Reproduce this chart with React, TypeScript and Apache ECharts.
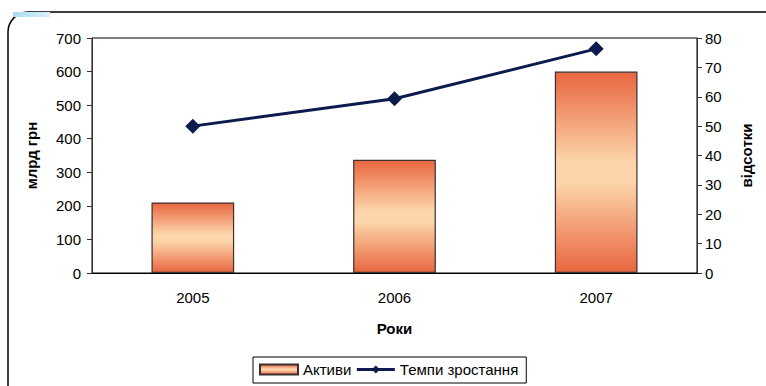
import React, { useEffect, useRef } from "react";
import * as echarts from "echarts";

const years = ["2005", "2006", "2007"];
const assets = [210, 337, 600];
const growth = [50, 59.3, 76.3];

export default function App() {
  const ref = useRef<HTMLDivElement>(null);
  useEffect(() => {
    const chart = echarts.init(ref.current!, null, { renderer: "svg" });
    const font = "Liberation Sans, Arial, sans-serif";
    const barGrad = new echarts.graphic.LinearGradient(0, 0, 0, 1, [
      { offset: 0, color: "#e8663f" },
      { offset: 0.45, color: "#fdd5ab" },
      { offset: 0.55, color: "#fdd5ab" },
      { offset: 1, color: "#e8663f" },
    ]);
    chart.setOption({
      animation: false,
      textStyle: { fontFamily: font },
      graphic: [
        {
          type: "rect",
          shape: { x: 8, y: 12, width: 800, height: 420, r: 20 },
          style: { fill: "none", stroke: "#000", lineWidth: 1.5 },
          z: 0,
        },
        {
          type: "rect",
          shape: { x: 13, y: 12, width: 37, height: 5 },
          style: {
            fill: new echarts.graphic.LinearGradient(0, 0, 1, 0, [
              { offset: 0, color: "#a9dcef" },
              { offset: 1, color: "#d9f1fa" },
            ]),
          },
          z: 1,
        },
      ],
      grid: { left: 92, right: 69, top: 38, bottom: 113, show: true, borderColor: "#000", borderWidth: 1 },
      legend: {
        left: 253,
        top: 357,
        itemWidth: 38,
        itemHeight: 10,
        itemGap: 4,
        padding: [5, 8, 6, 6],
        borderColor: "#000",
        borderWidth: 1,
        textStyle: { fontSize: 15, color: "#000", fontFamily: font },
        data: [
          { name: "Активи", icon: "rect" },
          { name: "Темпи зростання", lineStyle: { width: 3 } },
        ],
      },
      xAxis: {
        type: "category",
        data: years,
        axisLine: { lineStyle: { color: "#000" } },
        axisTick: { show: false },
        axisLabel: { fontSize: 15, color: "#000", margin: 17, fontFamily: font },
        name: "Роки",
        nameLocation: "middle",
        nameGap: 48,
        nameTextStyle: { fontSize: 15, fontWeight: "bold", color: "#000", fontFamily: font },
      },
      yAxis: [
        {
          type: "value",
          min: 0,
          max: 700,
          interval: 100,
          axisLine: { show: true, lineStyle: { color: "#333" } },
          axisTick: { show: true, length: 5, lineStyle: { color: "#333" } },
          splitLine: { show: false },
          axisLabel: { fontSize: 15, color: "#000", margin: 11, fontFamily: font },
          name: "млрд грн",
          nameLocation: "middle",
          nameGap: 53,
          nameRotate: 90,
          nameTextStyle: { fontSize: 15, fontWeight: "bold", color: "#000", fontFamily: font },
        },
        {
          type: "value",
          min: 0,
          max: 80,
          interval: 10,
          position: "right",
          axisLine: { show: true, lineStyle: { color: "#333" } },
          axisTick: { show: true, length: 5, lineStyle: { color: "#333" } },
          splitLine: { show: false },
          axisLabel: { fontSize: 15, color: "#000", margin: 8, fontFamily: font },
          name: "відсотки",
          nameLocation: "middle",
          nameGap: 42,
          nameRotate: 90,
          nameTextStyle: { fontSize: 15, fontWeight: "bold", color: "#000", fontFamily: font },
        },
      ],
      series: [
        {
          name: "Активи",
          type: "bar",
          data: assets,
          barWidth: "41%",
          itemStyle: { color: barGrad, borderColor: "#3a3030", borderWidth: 1.2 },
        },
        {
          name: "Темпи зростання",
          type: "line",
          yAxisIndex: 1,
          data: growth,
          symbol: "diamond",
          symbolSize: 15,
          lineStyle: { color: "#0d1a4e", width: 3 },
          itemStyle: { color: "#0d1a4e" },
        },
      ],
    });
    return () => chart.dispose();
  }, []);
  return <div ref={ref} style={{ width: 766, height: 386, position: "absolute", left: 0, top: 0 }} />;
}
